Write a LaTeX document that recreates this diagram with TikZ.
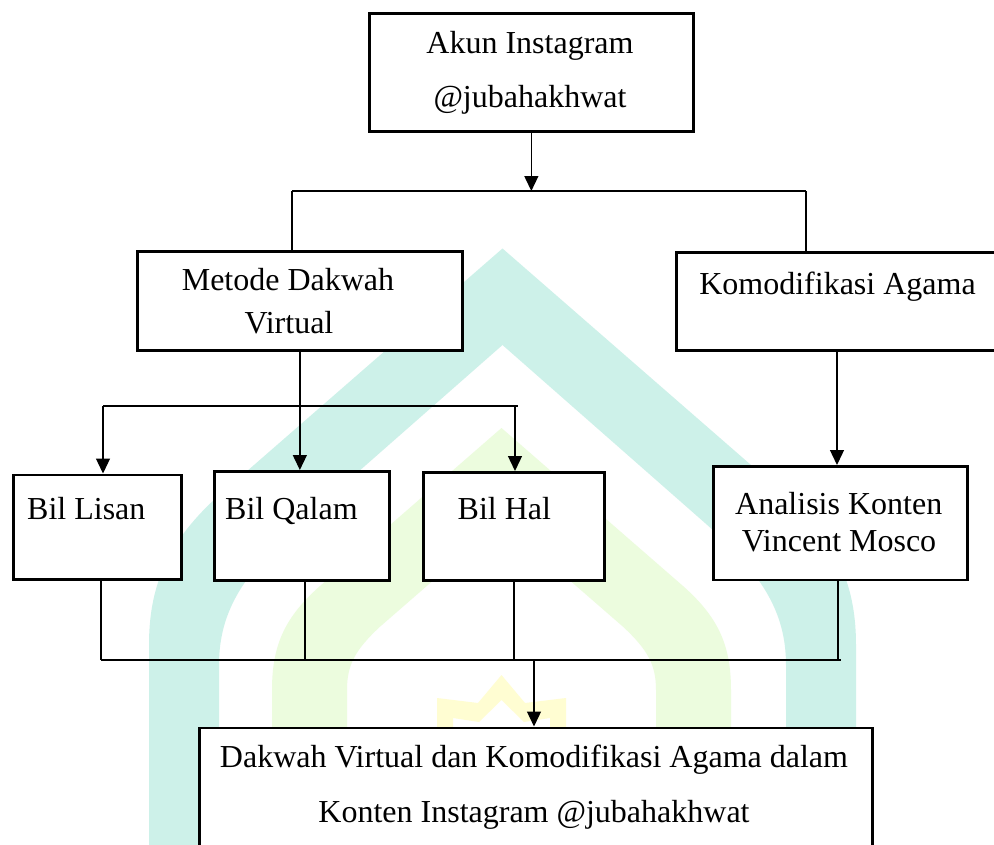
\documentclass[tikz,border=0pt]{standalone}
\usepackage{fontspec}
\setmainfont{Liberation Serif}
\usetikzlibrary{arrows.meta}
\definecolor{wmteal}{RGB}{205,241,233}
\definecolor{wmgreen}{RGB}{236,252,222}
\definecolor{wmyellow}{RGB}{255,253,210}
\tikzset{
  box/.style={draw, line width=2.7pt, fill=white, inner sep=0pt, anchor=north west},
  lbl/.style={font=\fontsize{32}{38}\selectfont, inner sep=0pt},
  conn/.style={line width=1.3pt},
  arr/.style={conn, -{Triangle[width=14pt,length=15pt]}}
}
\begin{document}
\begin{tikzpicture}[x=1pt,y=-1pt]
\clip (0,0) rectangle (994,844);
\fill[white] (0,0) rectangle (994,844);
% watermark
\fill[wmteal] (149,850) -- (149,645) .. controls (149,590) and (165,545) .. (215,499)
  -- (502.5,248.5) -- (790,499) .. controls (840,545) and (856,590) .. (856,645)
  -- (856,850) -- (786,850) -- (786,665) .. controls (786,610) and (760,572) .. (705,523)
  -- (502.5,345) -- (300,523) .. controls (245,572) and (219,610) .. (219,665)
  -- (219,850) -- cycle;
\fill[wmgreen] (272,850) -- (272,690) .. controls (272,645) and (285,617) .. (320,586)
  -- (501.5,428) -- (683,586) .. controls (718,617) and (731,645) .. (731,690)
  -- (731,850) -- (656,850) -- (656,690) .. controls (656,665) and (648,650) .. (623,626.7)
  -- (501.5,521) -- (380,626.7) .. controls (355,650) and (347,665) .. (347,690)
  -- (347,850) -- cycle;
\fill[wmyellow] (437,740) -- (437,698) -- (478,703) -- (501.5,675) -- (525,703) -- (566,698)
  -- (566,740) -- (550,740) -- (550,718) -- (524,722) -- (501.5,700) -- (479,722)
  -- (453,718) -- (453,740) -- cycle;
% boxes
\node[box, minimum width=324pt, minimum height=118pt] (top) at (368,12) {};
\node[box, minimum width=325pt, minimum height=99pt] (metode) at (136,250) {};
\node[box, minimum width=340pt, minimum height=98pt] (komod) at (675,251) {};
\node[box, minimum width=168pt, minimum height=104.5pt] (lisan) at (12,473.5) {};
\node[box, minimum width=175pt, minimum height=109pt] (qalam) at (213,470) {};
\node[box, minimum width=181pt, minimum height=108pt] (hal) at (422,471) {};
\node[box, minimum width=254pt, minimum height=113.5pt] (analisis) at (712,465) {};
\node[box, minimum width=673pt, minimum height=140pt] (final) at (198,726.5) {};
% labels
\node[lbl, anchor=base] (t1) at (530,53.3) {Akun Instagram};
\node[lbl, anchor=base] (t2) at (530,107) {@jubahakhwat};
\node[lbl, anchor=base] (m1) at (288,290.7) {Metode Dakwah};
\node[lbl, anchor=base] (m2) at (289,333.8) {Virtual};
\node[lbl, anchor=base] (k1) at (837.5,294.8) {Komodifikasi Agama};
\node[lbl, anchor=base west] (l1) at (27,519.7) {Bil Lisan};
\node[lbl, anchor=base west] (q1) at (225,519.7) {Bil Qalam};
\node[lbl, anchor=base west] (h1) at (457.5,519) {Bil Hal};
\node[lbl, anchor=base] (a1) at (838.7,514.6) {Analisis Konten};
\node[lbl, anchor=base] (a2) at (839,551) {Vincent Mosco};
\node[lbl, anchor=base] (f1) at (534,767) {Dakwah Virtual dan Komodifikasi Agama dalam};
\node[lbl, anchor=base] (f2) at (534,822) {Konten Instagram @jubahakhwat};
% junction coordinates
\coordinate (j1L) at (292,191);
\coordinate (j1R) at (806,191);
\coordinate (j2L) at (103,406);
\coordinate (j2R) at (518,406);
\coordinate (j2H) at (515,406);
\coordinate (kx) at (837,0);
\coordinate (b1) at (101,660);
\coordinate (b2) at (305,660);
\coordinate (b3) at (514,660);
\coordinate (b4) at (838,660);
\coordinate (b5) at (841,660);
\coordinate (bA) at (534,660);
% connectors
\draw[arr] (top.south) -- (top.south |- j1L);
\draw[conn] (j1L) -- (j1R);
\draw[conn] (j1L) -- (j1L |- metode.north);
\draw[conn] (j1R) -- (j1R |- komod.north);
\draw[conn] (metode.south) -- (metode.south |- j2L);
\draw[conn] (j2L) -- (j2R);
\draw[arr] (j2L) -- (j2L |- lisan.north);
\draw[arr] (metode.south |- j2L) -- (metode.south |- qalam.north);
\draw[arr] (j2H) -- (j2H |- hal.north);
\draw[arr] (kx |- komod.south) -- (kx |- analisis.north);
\draw[conn] (b1 |- lisan.south) -- (b1);
\draw[conn] (b2 |- qalam.south) -- (b2);
\draw[conn] (b3 |- hal.south) -- (b3);
\draw[conn] (b4 |- analisis.south) -- (b4);
\draw[conn] (b1) -- (b5);
\draw[arr] (bA) -- (bA |- final.north);
\end{tikzpicture}
\end{document}
